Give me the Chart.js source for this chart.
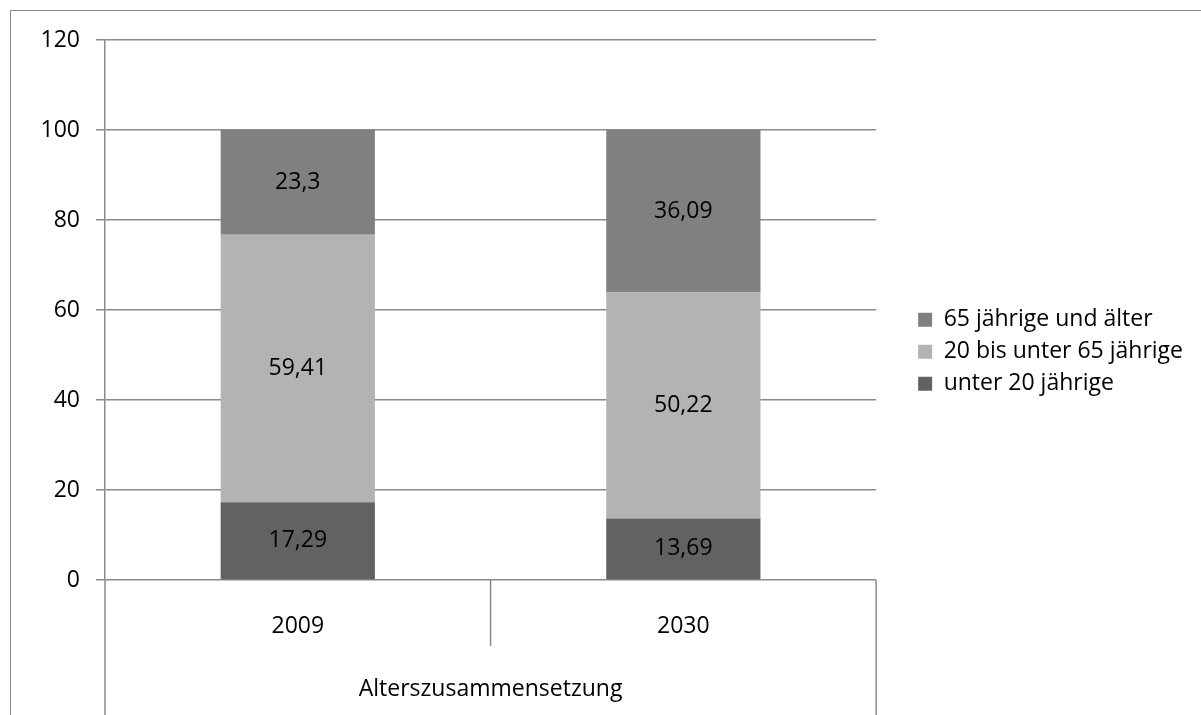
<!DOCTYPE html>
<html>
<head>
<meta charset="utf-8">
<script src="https://cdn.jsdelivr.net/npm/chart.js@4.4.1/dist/chart.umd.min.js"></script>
<style>
  html, body { margin: 0; padding: 0; overflow: hidden; background: #fff; }
  #rahmen { position: absolute; left: 10px; top: 10px; width: 1400px; height: 900px; border: 1px solid #8c8c8c; }
  #box { position: absolute; left: 0; top: 0; width: 1201px; height: 715px; }
</style>
</head>
<body>
<div id="rahmen"></div>
<div id="box"><canvas id="chart" width="1201" height="715"></canvas></div>
<script>
// Daten
const jahre = ["2009", "2030"];
const gruppe = "Alterszusammensetzung";
const unter20 = [17.29, 13.69];
const mitte = [59.41, 50.22];
const ab65 = [23.3, 36.09];
const yTicks = [0, 20, 40, 60, 80, 100, 120];

const linie = "#8a8a8a";
const schrift = "'Open Sans', Lato, sans-serif";
const groesse = 23;

// Werte in die Balken schreiben
const wertePlugin = {
  id: "werte",
  afterDatasetsDraw(chart) {
    const ctx = chart.ctx;
    ctx.save();
    ctx.font = groesse + "px " + schrift;
    ctx.fillStyle = "#000";
    ctx.textAlign = "center";
    ctx.textBaseline = "middle";
    chart.data.datasets.forEach((ds, i) => {
      chart.getDatasetMeta(i).data.forEach((bar, j) => {
        const y = (bar.y + bar.base) / 2;
        ctx.fillText(String(ds.data[j]).replace(".", ","), bar.x, y);
      });
    });
    ctx.restore();
  }
};

// mehrstufige Kategorieachse nachbauen
const achsePlugin = {
  id: "achse",
  afterDraw(chart) {
    const x = chart.scales.x;
    const ctx = chart.ctx;
    const unten = chart.height;
    const mittel = (x.getPixelForValue(0) + x.getPixelForValue(1)) / 2;
    ctx.save();
    ctx.strokeStyle = linie;
    ctx.lineWidth = 1.5;
    ctx.beginPath();
    ctx.moveTo(x.left, x.top);
    ctx.lineTo(x.left, unten);
    ctx.moveTo(x.right, x.top);
    ctx.lineTo(x.right, unten);
    ctx.moveTo(mittel, x.top);
    ctx.lineTo(mittel, x.top + 66);
    ctx.stroke();
    ctx.restore();
  }
};

new Chart(document.getElementById("chart"), {
  type: "bar",
  data: {
    labels: jahre,
    datasets: [
      { label: "unter 20 jährige", data: unter20, backgroundColor: "#626262", borderWidth: 0 },
      { label: "20 bis unter 65 jährige", data: mitte, backgroundColor: "#b3b3b3", borderWidth: 0 },
      { label: "65 jährige und älter", data: ab65, backgroundColor: "#808080", borderWidth: 0 }
    ]
  },
  options: {
    responsive: false,
    animation: false,
    layout: { padding: { left: 10, top: 40, right: 8, bottom: 0 } },
    datasets: { bar: { categoryPercentage: 1, barPercentage: 0.4 } },
    plugins: {
      legend: {
        position: "right",
        reverse: true,
        align: "start",
        maxWidth: 400,
        title: { display: true, text: "", padding: { top: 258, bottom: 0 }, font: { size: 1 } },
        labels: {
          boxWidth: 14,
          boxHeight: 14,
          padding: 9,
          color: "#000",
          font: { family: schrift, size: groesse }
        }
      },
      tooltip: { enabled: false }
    },
    scales: {
      x: {
        stacked: true,
        grid: { display: false, drawTicks: false },
        border: { display: false },
        ticks: { color: "#000", padding: 33, font: { family: schrift, size: groesse } },
        title: {
          display: true,
          text: gruppe,
          color: "#000",
          padding: { top: 0, bottom: 12 },
          font: { family: schrift, size: groesse }
        },
        afterFit(scale) { scale.height = 135; }
      },
      y: {
        stacked: true,
        min: 0,
        max: 120,
        afterBuildTicks(scale) { scale.ticks = yTicks.map(v => ({ value: v })); },
        grid: { color: linie, lineWidth: 1.5, tickLength: 9 },
        border: { color: linie, width: 1.5 },
        ticks: { color: "#000", padding: 16, font: { family: schrift, size: groesse } },
        afterFit(scale) { scale.width = 95; }
      },
      // leerer Abstand zwischen Diagramm und Legende
      luecke: {
        position: "right",
        display: true,
        grid: { display: false },
        border: { display: false },
        ticks: { display: false },
        afterFit(scale) { scale.width = 33; }
      }
    }
  },
  plugins: [wertePlugin, achsePlugin]
});
</script>
</body>
</html>
